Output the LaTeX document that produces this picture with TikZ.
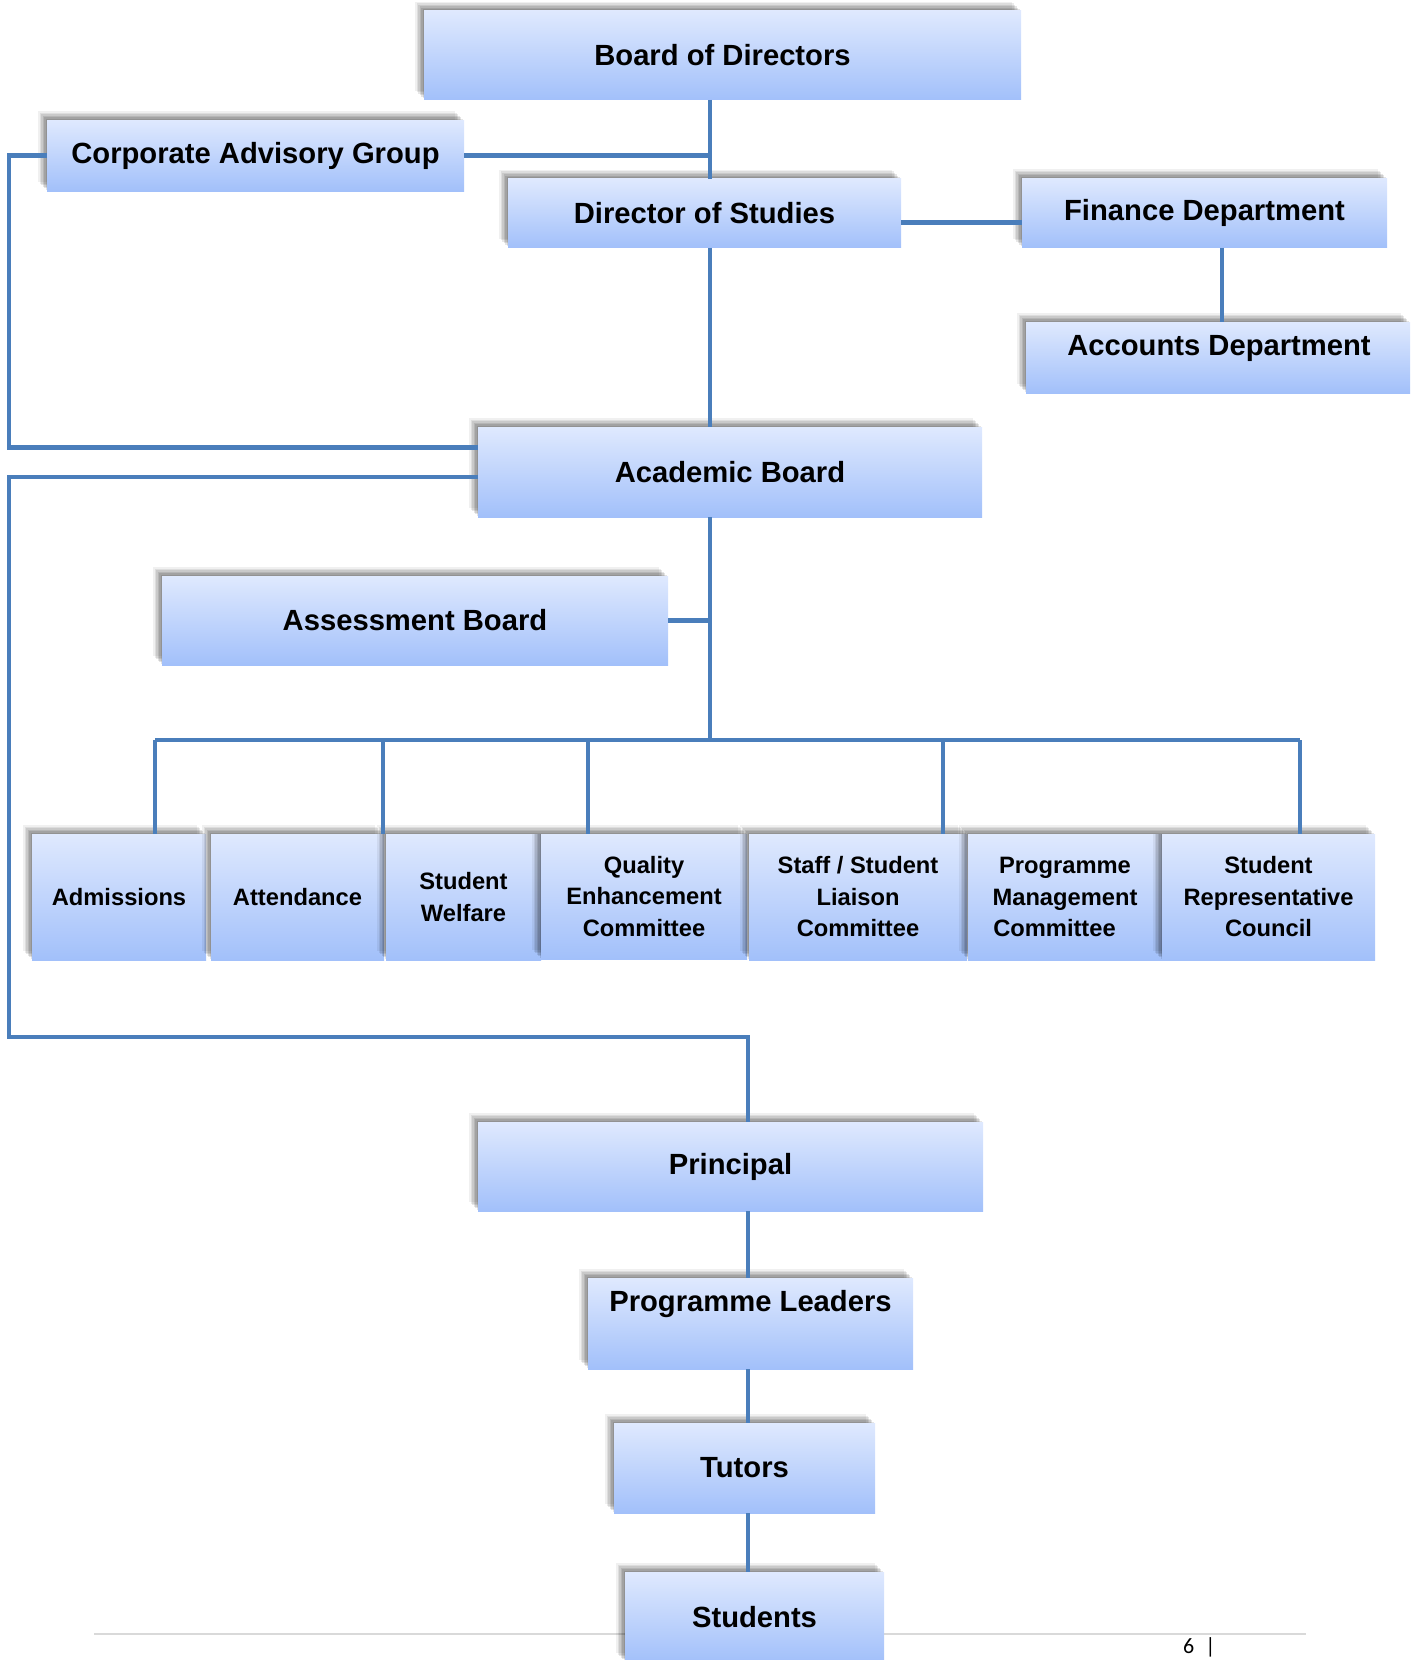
\documentclass[tikz,border=0pt]{standalone}
\usepackage{fontspec}
\setmainfont{Liberation Sans}
\newfontfamily\pagefont{Carlito}
\usetikzlibrary{shadows}
\definecolor{linec}{HTML}{4A7EBB}
\definecolor{boxtop}{HTML}{DFE9FE}
\definecolor{boxbot}{HTML}{A2C0FA}
\definecolor{footc}{HTML}{D9D9D9}
\tikzset{
  orgbox/.style={inner sep=0pt, outer sep=0pt, top color=boxtop, bottom color=boxbot,
    draw=none, align=center, font=\bfseries\fontsize{29.2}{35}\selectfont,
    general shadow={fill=black, opacity=0.1, shadow xshift=-1.5pt, shadow yshift=1.5pt},
    general shadow={fill=black, opacity=0.1, shadow xshift=-3pt, shadow yshift=3pt},
    general shadow={fill=black, opacity=0.1, shadow xshift=-4.5pt, shadow yshift=4.5pt},
    general shadow={fill=black, opacity=0.09, shadow xshift=-6pt, shadow yshift=6pt},
    general shadow={fill=black, opacity=0.08, shadow xshift=-7.5pt, shadow yshift=7.5pt},
    general shadow={fill=black, opacity=0.06, shadow xshift=-9pt, shadow yshift=9pt}},
  smallbox/.style={orgbox, font=\bfseries\fontsize{23.7}{31.5}\selectfont},
  boxtext/.style={inner sep=0pt, font=\bfseries\fontsize{29.2}{35}\selectfont},
  conn/.style={draw=linec, line width=4.5pt},
}
\begin{document}
\begin{tikzpicture}[x=1pt, y=-1pt]
\useasboundingbox (0,0) rectangle (1415,1660);
% footer rule
\coordinate (fl) at (94,1634);
\coordinate (fr) at (1306,1634);
\draw[footc, line width=2pt] (fl) -- (fr);
\node[anchor=base west, inner sep=0pt, font=\pagefont\fontsize{22}{26}\selectfont] (pg) at (1183,1653) {6\hspace{0.5em}|};
% upper boxes
\node[orgbox, minimum width=597pt, minimum height=89pt] (board) at (722.5,55.4) {Board of Directors};
\node[orgbox, minimum width=417pt, minimum height=71pt] (cag) at (255.5,155.5) {Corporate Advisory Group};
\node[orgbox, minimum width=393pt, minimum height=69pt] (dir) at (704.5,213.3) {Director of Studies};
\node[orgbox, minimum width=365pt, minimum height=69.5pt] (fin) at (1204.5,212.8) {Finance Department};
\node[orgbox, minimum width=384pt, minimum height=71pt] (acc) at (1218,357.5) {};
\node[boxtext] (acct) at (1219,348) {Accounts Department};
\node[orgbox, minimum width=504pt, minimum height=90pt] (acad) at (730,472) {Academic Board};
\node[orgbox, minimum width=506pt, minimum height=89pt] (assess) at (415,620.5) {Assessment Board};
% row of committees
\node[smallbox, minimum width=174pt, minimum height=126pt] (adm) at (119,897) {Admissions};
\node[smallbox, minimum width=173pt, minimum height=126pt] (att) at (297.5,897) {Attendance};
\node[smallbox, minimum width=155pt, minimum height=126pt] (sw) at (463.5,897) {Student\\Welfare};
\node[smallbox, minimum width=206pt, minimum height=125pt] (qual) at (644,896.5) {Quality\\Enhancement\\Committee};
\node[smallbox, minimum width=218pt, minimum height=126pt] (ssl) at (858,897) {Staff / Student\\Liaison\\Committee};
\node[smallbox, minimum width=194pt, minimum height=126pt] (pmc) at (1065,897) {Programme\\Management\\Committee\hspace*{21pt}};
\node[smallbox, minimum width=213pt, minimum height=126pt] (src) at (1268.5,897) {Student\\Representative\\Council};
% lower boxes
\node[orgbox, minimum width=505pt, minimum height=89pt] (prin) at (730.5,1166.5) {Principal};
\node[orgbox, minimum width=325pt, minimum height=91pt] (pl) at (750.5,1323.5) {};
\node[boxtext] (plt) at (750.5,1304) {Programme Leaders};
\node[orgbox, minimum width=261pt, minimum height=90pt] (tut) at (744.5,1468) {Tutors};
\node[orgbox, minimum width=259pt, minimum height=90pt] (stu) at (754.5,1617) {Students};
% connector helper coordinates
\coordinate (sp) at (710,0);
\coordinate (lx) at (9,0);
\coordinate (fx) at (1222,0);
\coordinate (busL) at (155,740);
\coordinate (busR) at (1300,740);
\coordinate (jn) at (748,1037);
% connectors
\draw[conn] (board.south -| sp) -- (dir.north -| sp);
\draw[conn] (cag.east) -- (cag.east -| sp);
\draw[conn] (cag.west) -- (cag.west -| lx) -- ([yshift=-20.5pt]acad.north west -| lx) -- ([yshift=-20.5pt]acad.north west);
\draw[conn] ([yshift=-9pt]dir.east) -- ([yshift=-9pt]dir.east -| fin.west);
\draw[conn] (fin.south -| fx) -- (acc.north -| fx);
\draw[conn] (dir.south -| sp) -- (acad.north -| sp);
\draw[conn] (acad.south -| sp) -- (sp |- busL);
\draw[conn] (assess.east) -- (assess.east -| sp);
\draw[conn] (busL) -- (busR);
\draw[conn] (busL) -- (busL |- adm.north);
\draw[conn] ([xshift=-1pt]att.north east |- busL) -- ([xshift=-1pt]att.north east);
\draw[conn] ([xshift=47pt]qual.north west |- busL) -- ([xshift=47pt]qual.north west);
\draw[conn] ([xshift=-24pt]ssl.north east |- busL) -- ([xshift=-24pt]ssl.north east);
\draw[conn] (busR) -- (busR |- src.north);
\draw[conn] ([yshift=-5pt]acad.west) -- ([yshift=-5pt]acad.west -| lx) -- (lx |- jn) -- (jn) -- (jn |- prin.north);
\draw[conn] (prin.south -| jn) -- (pl.north -| jn);
\draw[conn] (pl.south -| jn) -- (tut.north -| jn);
\draw[conn] (tut.south -| jn) -- (stu.north -| jn);
\end{tikzpicture}
\end{document}
